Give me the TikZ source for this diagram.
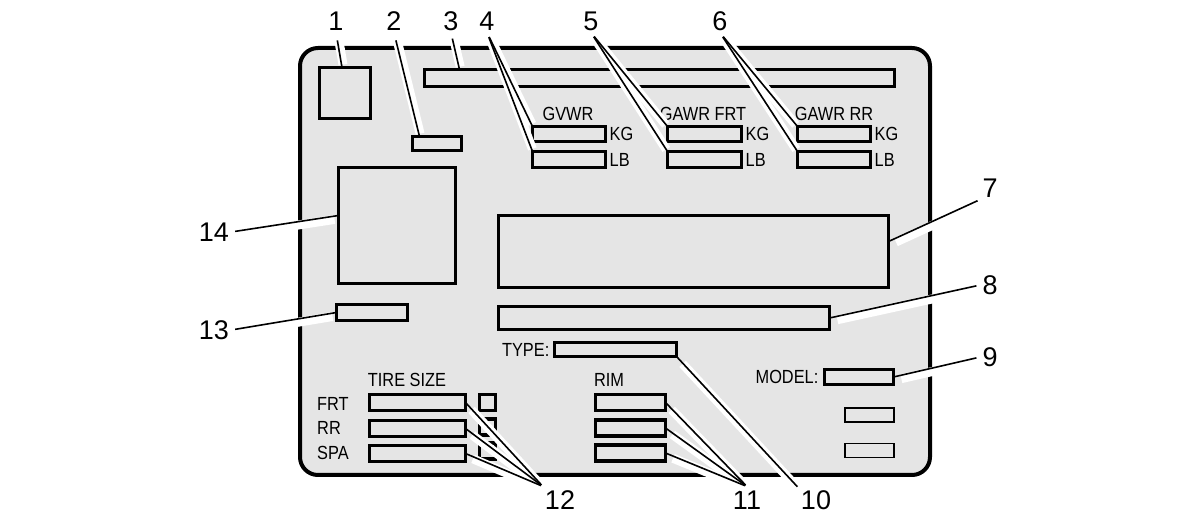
\documentclass[tikz,border=0pt]{standalone}
\usepackage{fontspec}
\setmainfont{Liberation Sans}
\newfontfamily\platefont[FakeStretch=0.86]{Liberation Sans}
\usetikzlibrary{positioning}
\pgfdeclarelayer{halo}
\pgfdeclarelayer{top}
\pgfsetlayers{main,halo,top}
\tikzset{
  plate/.style = {draw=black, fill=black!10, line width=4pt, rounded corners=18pt},
  field/.style = {draw=black, fill=black!10, line width=3.4pt, inner sep=0pt, outer sep=0pt},
  field thin/.style = {field, line width=1.5pt},
  tag/.style = {font=\platefont\fontsize{19}{21}\selectfont, inner sep=1pt},
  callout/.style = {font=\fontsize{27}{29}\selectfont, inner sep=2pt},
  halo line/.style = {draw=white, line width=9pt, transform canvas={shift={(2pt,-3pt)}}},
  leader/.style = {draw=black, line width=1.6pt},
}
\newcommand{\calloutline}[3][0pt]{%
  \begin{pgfonlayer}{halo}
    \draw[halo line, shorten <=#1, shorten >=6pt] #2 -- #3;
  \end{pgfonlayer}
  \begin{pgfonlayer}{top}
    \draw[leader, shorten <=#1] #2 -- #3;
  \end{pgfonlayer}}

\begin{document}
\begin{tikzpicture}[x=1pt,y=-1pt]
  \useasboundingbox (0,0) rectangle (1200,526);
  \fill[white] (0,0) rectangle (1200,526);

  % label plate
  \draw[plate] (300,48) rectangle (930,475);

  % top row
  \node[field, minimum width=51pt, minimum height=51pt] (vin) at (345,93) {};
  \node[field, minimum width=49pt, minimum height=14pt] (date) at (437,143.5) {};
  \node[field, minimum width=470pt, minimum height=17pt] (maker) at (659.5,78) {};

  % weight ratings
  \node[field, minimum width=73pt, minimum height=15pt] (gvwrkg) at (569,134) {};
  \node[field, minimum width=73pt, minimum height=16pt] (gvwrlb) at (569,159.5) {};
  \node[field, minimum width=74pt, minimum height=15pt] (frtkg) at (704.5,134) {};
  \node[field, minimum width=74pt, minimum height=16pt] (frtlb) at (704.5,159.5) {};
  \node[field, minimum width=73pt, minimum height=15pt] (rrkg) at (834,134) {};
  \node[field, minimum width=73pt, minimum height=16pt] (rrlb) at (834,159.5) {};
  \node[tag] at (568,114) {GVWR};
  \node[tag] at (703,114) {GAWR FRT};
  \node[tag] at (834,114) {GAWR RR};
  \foreach \bx in {gvwrkg,frtkg,rrkg}
    \node[tag, right=3pt of \bx.east] {KG};
  \foreach \bx in {gvwrlb,frtlb,rrlb}
    \node[tag, right=3pt of \bx.east] {LB};

  % middle
  \node[field, minimum width=117pt, minimum height=116pt] (logo) at (397,225.5) {};
  \node[field, minimum width=71pt, minimum height=16pt] (code) at (372,312.5) {};
  \node[field, minimum width=390pt, minimum height=72pt] (notice) at (693.5,251.5) {};
  \node[field, minimum width=331pt, minimum height=23pt] (vinbar) at (664,318) {};
  \node[field, minimum width=122pt, minimum height=14pt] (type) at (615.5,349.5) {};
  \node[tag, left=4pt of type.west] {TYPE:};
  \node[field, minimum width=69pt, minimum height=15pt] (model) at (859,377) {};
  \node[tag, left=5pt of model.west] {MODEL:};
  \node[field thin, minimum width=49pt, minimum height=14pt] (spare1) at (869.5,415) {};
  \node[field thin, minimum width=49pt, minimum height=14pt] (spare2) at (869.5,450.5) {};

  % tyres and rims
  \node[tag] at (407,380) {TIRE SIZE};
  \node[field, minimum width=96pt, minimum height=16pt] (tirefrt) at (417.5,402.5) {};
  \node[field, minimum width=96pt, minimum height=16pt] (tirerr) at (417.5,428.5) {};
  \node[field, minimum width=96pt, minimum height=16pt] (tirespa) at (417.5,453.5) {};
  \node[tag, anchor=west] at (316,404) {FRT};
  \node[tag, anchor=west] at (316,428) {RR};
  \node[tag, anchor=west] at (316,453) {SPA};
  \node[field, minimum width=16pt, minimum height=16pt] (psi1) at (487.5,402.5) {};
  \node[field, minimum width=16pt, minimum height=16pt] (psi2) at (487.5,427) {};
  \node[field, minimum width=16pt, minimum height=16pt] (psi3) at (487.5,451) {};
  \node[tag] at (609,380) {RIM};
  \node[field, minimum width=70pt, minimum height=16pt] (rim1) at (630.5,402.5) {};
  \node[field, minimum width=70pt, minimum height=16pt] (rim2) at (630.5,428) {};
  \node[field, minimum width=70pt, minimum height=16pt] (rim3) at (630.5,453) {};

  % callout numbers
  \node[callout] (n1) at (336,21) {1};
  \node[callout] (n2) at (394,21) {2};
  \node[callout] (n3) at (451,21) {3};
  \node[callout] (n4) at (487,21) {4};
  \node[callout] (n5) at (591,21) {5};
  \node[callout] (n6) at (720,21) {6};
  \node[callout] (n7) at (990,188) {7};
  \node[callout] (n8) at (990,285) {8};
  \node[callout] (n9) at (990,357) {9};
  \node[callout] (n10) at (816,500) {10};
  \node[callout] (n11) at (747,500) {11};
  \node[callout] (n12) at (560,500) {12};
  \node[callout] (n13) at (214,330) {13};
  \node[callout] (n14) at (214,232) {14};

  % leaders
  \calloutline[8pt]{(n1.south)}{([xshift=-3pt]vin.north)}
  \calloutline[8pt]{(n2.south)}{([xshift=7pt]date.north west)}
  \calloutline[6pt]{(n3.south)}{([xshift=35pt]maker.north west)}
  \calloutline[5pt]{(n4.south)}{(gvwrkg.north west)}
  \calloutline[5pt]{(n4.south)}{(gvwrlb.north west)}
  \calloutline[5pt]{(n5.south)}{(frtkg.north west)}
  \calloutline[5pt]{(n5.south)}{(frtlb.north west)}
  \calloutline[5pt]{(n6.south)}{(rrkg.north west)}
  \calloutline[5pt]{(n6.south)}{(rrlb.north west)}
  \calloutline[3pt]{(n7.south west)}{([yshift=10pt]notice.east)}
  \calloutline[4pt]{(n8.west)}{(vinbar.east)}
  \calloutline[4pt]{(n9.west)}{(model.east)}
  \calloutline[2pt]{(n10.north west)}{(type.south east)}
  \foreach \bx in {rim1,rim2,rim3}
    \calloutline[2pt]{([yshift=2pt]n11.north)}{(\bx.east)};
  \foreach \bx in {tirefrt,tirerr,tirespa}
    \calloutline[2pt]{([yshift=2pt]n12.north west)}{(\bx.east)};
  \calloutline[4pt]{(n13.east)}{(code.west)}
  \calloutline[4pt]{(n14.east)}{([yshift=10pt]logo.west)}
\end{tikzpicture}
\end{document}
